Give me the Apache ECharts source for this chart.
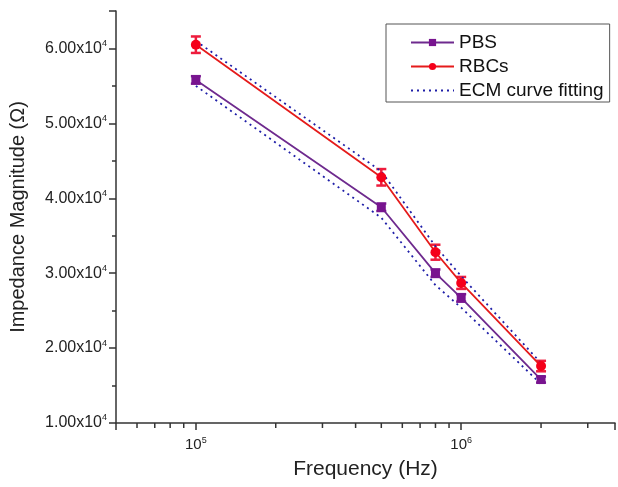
<!DOCTYPE html>
<html>
<head>
<meta charset="utf-8">
<script src="https://cdn.jsdelivr.net/npm/echarts@6/dist/echarts.min.js"></script>
<style>html,body{margin:0;padding:0;background:#fff}#main{width:618px;height:487px}</style>
</head>
<body>
<div id="main"></div>
<script>
// values
var freq = [1e5, 5e5, 8e5, 1e6, 2e6];
var pbs = [55800, 38800, 30000, 26700, 15800];
var pbsErr = [500, 500, 500, 500, 400];
var rbcs = [60500, 42800, 32800, 28700, 17600];
var rbcsErr = [1100, 1100, 1000, 800, 700];
var ecmRbcs = [61000, 43600, 33600, 29600, 18000];
var ecmPbs = [55000, 37400, 28400, 25400, 15200];
var minorTicksX = [6e4, 7e4, 8e4, 9e4, 2e5, 3e5, 4e5, 5e5, 6e5, 7e5, 8e5, 9e5, 2e6, 3e6];

var font = 'Liberation Sans, Arial, sans-serif';

function pairs(ys) {
	var res = [];
	for (var i = 0; i < freq.length; i++) res.push([freq[i], ys[i]]);
	return res;
}
function errData(ys, es) {
	var res = [];
	for (var i = 0; i < freq.length; i++) res.push([freq[i], ys[i] - es[i], ys[i] + es[i]]);
	return res;
}
function errSeries(ys, es, color) {
	return {
		type: 'custom',
		data: errData(ys, es),
		encode: {x: 0, y: [1, 2]},
		silent: true,
		z: 1,
		renderItem: function (params, api) {
			var x = api.value(0);
			var top = api.coord([x, api.value(2)]);
			var bot = api.coord([x, api.value(1)]);
			var w = 5;
			var st = {stroke: color, lineWidth: 2.5};
			return {type: 'group', children: [
				{type: 'line', shape: {x1: top[0], y1: top[1], x2: bot[0], y2: bot[1]}, style: st},
				{type: 'line', shape: {x1: top[0] - w, y1: top[1], x2: top[0] + w, y2: top[1]}, style: st},
				{type: 'line', shape: {x1: bot[0] - w, y1: bot[1], x2: bot[0] + w, y2: bot[1]}, style: st}
			]};
		}
	};
}

var chart = echarts.init(document.getElementById('main'));

var option = {
	animation: false,
	backgroundColor: '#fff',
	grid: {left: 113, right: 1, top: 11, bottom: 64},
	legend: {
		orient: 'vertical',
		left: 386,
		top: 24,
		padding: [9, 6, 2, 24],
		borderColor: '#555',
		borderWidth: 1,
		itemWidth: 43,
		itemHeight: 9,
		itemGap: 5,
		textStyle: {fontFamily: font, fontSize: 19, color: '#111'},
		data: ['PBS', 'RBCs', {name: 'ECM curve fitting', itemStyle: {opacity: 0}}]
	},
	xAxis: {
		type: 'log',
		logBase: 10,
		min: 5e4,
		max: 3.8e6,
		name: 'Frequency (Hz)',
		nameLocation: 'middle',
		nameGap: 36,
		nameTextStyle: {fontFamily: font, fontSize: 21, color: '#222'},
		axisLine: {lineStyle: {color: '#333', width: 1.5}},
		axisTick: {length: 7, lineStyle: {color: '#333', width: 1.5}},
		splitLine: {show: false},
		axisLabel: {
			margin: 13,
			formatter: function (v) {
				var e = Math.log10(v);
				if (Math.abs(e - Math.round(e)) > 1e-6) return '';
				return '{m|10}{s|' + Math.round(e) + '}';
			},
			rich: {
				m: {fontFamily: font, fontSize: 15, color: '#222'},
				s: {fontFamily: font, fontSize: 9, color: '#222', padding: [0, 0, 9, 0]}
			}
		}
	},
	yAxis: {
		type: 'value',
		min: 10000,
		max: 65000,
		interval: 10000,
		name: 'Impedance Magnitude (Ω)',
		nameLocation: 'middle',
		nameGap: 88,
		nameTextStyle: {fontFamily: font, fontSize: 20, color: '#222'},
		axisLine: {show: true, lineStyle: {color: '#333', width: 1.5}},
		axisTick: {length: 7, lineStyle: {color: '#333', width: 1.5}},
		minorTick: {show: true, splitNumber: 2, length: 4, lineStyle: {color: '#333', width: 1.5}},
		splitLine: {show: false},
		axisLabel: {
			margin: 9,
			formatter: function (v) {
				if (v % 10000 !== 0) return '';
				return '{m|' + (v / 10000).toFixed(2) + 'x10}{s|4}';
			},
			rich: {
				m: {fontFamily: font, fontSize: 16, color: '#222'},
				s: {fontFamily: font, fontSize: 9, color: '#222', padding: [0, 0, 10, 0]}
			}
		}
	},
	series: [
		{
			type: 'custom',
			data: minorTicksX,
			encode: {x: 0},
			silent: true,
			renderItem: function (params, api) {
				var p = api.coord([api.value(0), 10000]);
				return {type: 'line', shape: {x1: p[0], y1: p[1], x2: p[0], y2: p[1] + 5},
					style: {stroke: '#333', lineWidth: 1.5}};
			}
		},
		{
			name: 'ECM curve fitting',
			type: 'line',
			data: pairs(ecmPbs),
			showSymbol: false,
			symbol: 'none',
			lineStyle: {color: '#1f1fa8', width: 1.8, type: [2, 4]},
			itemStyle: {color: '#1f1fa8'}
		},
		{
			name: 'ECM curve fitting',
			type: 'line',
			data: pairs(ecmRbcs),
			showSymbol: false,
			symbol: 'none',
			lineStyle: {color: '#1f1fa8', width: 1.8, type: [2, 4]},
			itemStyle: {color: '#1f1fa8'}
		},
		errSeries(pbs, pbsErr, '#7b1b92'),
		errSeries(rbcs, rbcsErr, '#ee1c3c'),
		{
			name: 'PBS',
			type: 'line',
			data: pairs(pbs),
			symbol: 'rect',
			symbolSize: 9,
			lineStyle: {color: '#6e2a8e', width: 1.8},
			itemStyle: {color: '#78148f'}
		},
		{
			name: 'RBCs',
			type: 'line',
			data: pairs(rbcs),
			symbol: 'circle',
			symbolSize: 10,
			lineStyle: {color: '#e51b1b', width: 1.8},
			itemStyle: {color: '#f5001a'}
		}
	]
};
chart.setOption(option);
</script>
</body>
</html>
